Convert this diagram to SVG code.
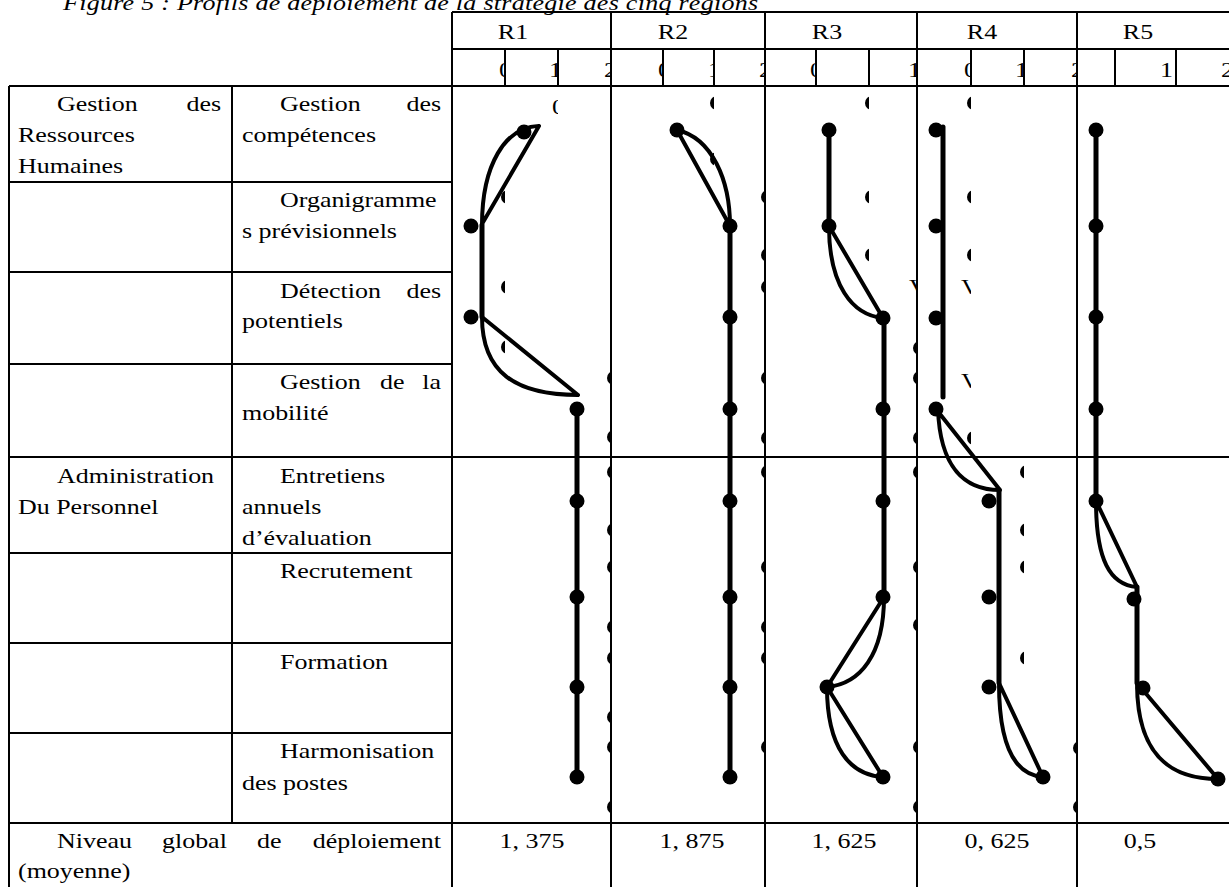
<svg xmlns="http://www.w3.org/2000/svg" width="1229" height="887" viewBox="0 0 1229 887">
<style>
.t{font-family:"Liberation Serif","Times New Roman",serif;font-size:22px;fill:#000}
.i{font-style:italic}
.m{text-anchor:middle}
.e{text-anchor:end}
.g{stroke:#000;stroke-width:2;fill:none}
.v{stroke:#000;stroke-width:5;fill:none;stroke-linecap:round}
.l{stroke:#000;stroke-width:4;fill:none;stroke-linecap:round;stroke-linejoin:round}
.d{fill:#000}
</style>
<defs>
<clipPath id="k505" clipPathUnits="userSpaceOnUse"><rect x="465" y="0" width="40" height="887"/></clipPath>
<clipPath id="k558" clipPathUnits="userSpaceOnUse"><rect x="518" y="0" width="40" height="887"/></clipPath>
<clipPath id="k611" clipPathUnits="userSpaceOnUse"><rect x="571" y="0" width="40" height="887"/></clipPath>
<clipPath id="k663" clipPathUnits="userSpaceOnUse"><rect x="623" y="0" width="40" height="887"/></clipPath>
<clipPath id="k714" clipPathUnits="userSpaceOnUse"><rect x="674" y="0" width="40" height="887"/></clipPath>
<clipPath id="k765" clipPathUnits="userSpaceOnUse"><rect x="725" y="0" width="40" height="887"/></clipPath>
<clipPath id="k816" clipPathUnits="userSpaceOnUse"><rect x="776" y="0" width="40" height="887"/></clipPath>
<clipPath id="k869" clipPathUnits="userSpaceOnUse"><rect x="829" y="0" width="40" height="887"/></clipPath>
<clipPath id="k917" clipPathUnits="userSpaceOnUse"><rect x="877" y="0" width="40" height="887"/></clipPath>
<clipPath id="k971" clipPathUnits="userSpaceOnUse"><rect x="931" y="0" width="40" height="887"/></clipPath>
<clipPath id="k1024" clipPathUnits="userSpaceOnUse"><rect x="984" y="0" width="40" height="887"/></clipPath>
<clipPath id="k1077" clipPathUnits="userSpaceOnUse"><rect x="1037" y="0" width="40" height="887"/></clipPath>
<clipPath id="k1176" clipPathUnits="userSpaceOnUse"><rect x="1136" y="0" width="40" height="887"/></clipPath>
<clipPath id="k1229" clipPathUnits="userSpaceOnUse"><rect x="1189" y="0" width="40" height="887"/></clipPath>
</defs>
<rect width="1229" height="887" fill="#fff"/>

<g id="title">
<text class="t i" transform="translate(63 10) scale(1.18 1)" textLength="589" lengthAdjust="spacing">Figure 5 : Profils de déploiement de la stratégie des cinq régions</text>
</g>

<g id="grid">
<path class="g" d="M452,12H1229M452,49H1229M9,86H1229M9,182H452M9,272H452M9,364H452M9,457H1229M9,553H452M9,643H452M9,733H452M9,823H1229"/>
<path class="g" d="M9,86V887M232,86V823M452,12V887M611,12V887M765,12V887M917,12V887M1077,12V887"/>
<path class="g" d="M505,49V86M558,49V86M663,49V86M714,49V86M816,49V86M869,49V86M971,49V86M1024,49V86M1115,49V86M1176,49V86"/>
</g>

<g id="header">
<text class="t m" transform="translate(513 39) scale(1.18 1)">R1</text>
<text class="t m" transform="translate(673 39) scale(1.18 1)">R2</text>
<text class="t m" transform="translate(827 39) scale(1.18 1)">R3</text>
<text class="t m" transform="translate(982 39) scale(1.18 1)">R4</text>
<text class="t m" transform="translate(1138 39) scale(1.18 1)">R5</text>
<g clip-path="url(#k505)"><text class="t" transform="translate(499 77) scale(1.18 1)">0</text></g>
<g clip-path="url(#k558)"><text class="t" transform="translate(549 77) scale(1.18 1)">1</text></g>
<g clip-path="url(#k611)"><text class="t" transform="translate(604 77) scale(1.18 1)">2</text></g>
<g clip-path="url(#k663)"><text class="t" transform="translate(658 77) scale(1.18 1)">0</text></g>
<g clip-path="url(#k714)"><text class="t" transform="translate(708 77) scale(1.18 1)">1</text></g>
<g clip-path="url(#k765)"><text class="t" transform="translate(759 77) scale(1.18 1)">2</text></g>
<g clip-path="url(#k816)"><text class="t" transform="translate(810 77) scale(1.18 1)">0</text></g>
<g clip-path="url(#k917)"><text class="t" transform="translate(908 77) scale(1.18 1)">1</text></g>
<g clip-path="url(#k971)"><text class="t" transform="translate(964 77) scale(1.18 1)">0</text></g>
<g clip-path="url(#k1024)"><text class="t" transform="translate(1015 77) scale(1.18 1)">1</text></g>
<g clip-path="url(#k1077)"><text class="t" transform="translate(1071 77) scale(1.18 1)">2</text></g>
<g clip-path="url(#k1176)"><text class="t" transform="translate(1160 77) scale(1.18 1)">1</text></g>
<g clip-path="url(#k1229)"><text class="t" transform="translate(1221 77) scale(1.18 1)">2</text></g>
</g>

<g id="labels">
<text class="t" transform="translate(57 111) scale(1.18 1)">Gestion</text>
<text class="t e" transform="translate(221 111) scale(1.18 1)">des</text>
<text class="t" transform="translate(18 142) scale(1.18 1)">Ressources</text>
<text class="t" transform="translate(18 173) scale(1.18 1)">Humaines</text>
<text class="t" transform="translate(280 111) scale(1.18 1)">Gestion</text>
<text class="t e" transform="translate(441 111) scale(1.18 1)">des</text>
<text class="t" transform="translate(242 142) scale(1.18 1)">compétences</text>
<text class="t" transform="translate(280 207) scale(1.18 1)">Organigramme</text>
<text class="t" transform="translate(242 238) scale(1.18 1)">s prévisionnels</text>
<text class="t" transform="translate(280 298) scale(1.18 1)">Détection</text>
<text class="t e" transform="translate(441 298) scale(1.18 1)">des</text>
<text class="t" transform="translate(242 328) scale(1.18 1)">potentiels</text>
<text class="t" transform="translate(280 389) scale(1.18 1)">Gestion</text>
<text class="t" transform="translate(380 389) scale(1.18 1)">de</text>
<text class="t e" transform="translate(441 389) scale(1.18 1)">la</text>
<text class="t" transform="translate(242 420) scale(1.18 1)">mobilité</text>
<text class="t" transform="translate(57 483) scale(1.18 1)">Administration</text>
<text class="t" transform="translate(18 514) scale(1.18 1)">Du Personnel</text>
<text class="t" transform="translate(280 483) scale(1.18 1)">Entretiens</text>
<text class="t" transform="translate(242 514) scale(1.18 1)">annuels</text>
<text class="t" transform="translate(242 545) scale(1.18 1)">d’évaluation</text>
<text class="t" transform="translate(280 578) scale(1.18 1)">Recrutement</text>
<text class="t" transform="translate(280 669) scale(1.18 1)">Formation</text>
<text class="t" transform="translate(280 758) scale(1.18 1)">Harmonisation</text>
<text class="t" transform="translate(242 790) scale(1.18 1)">des postes</text>
<text class="t" transform="translate(57 848) scale(1.18 1)">Niveau</text>
<text class="t" transform="translate(162 848) scale(1.18 1)">global</text>
<text class="t" transform="translate(257 848) scale(1.18 1)">de</text>
<text class="t e" transform="translate(441 848) scale(1.18 1)">déploiement</text>
<text class="t" transform="translate(18 878) scale(1.18 1)">(moyenne)</text>
<text class="t m" transform="translate(532 848) scale(1.18 1)">1, 375</text>
<text class="t m" transform="translate(692 848) scale(1.18 1)">1, 875</text>
<text class="t m" transform="translate(844 848) scale(1.18 1)">1, 625</text>
<text class="t m" transform="translate(997 848) scale(1.18 1)">0, 625</text>
<text class="t m" transform="translate(1140 848) scale(1.18 1)">0,5</text>
</g>

<g id="fragments">
<g clip-path="url(#k505)" class="d"><circle cx="508" cy="197" r="7"/><circle cx="508" cy="287" r="7"/><circle cx="508" cy="347" r="7"/></g>
<g clip-path="url(#k558)"><text class="t" transform="translate(552 114) scale(1.18 1)">0</text></g>
<g clip-path="url(#k611)" class="d"><circle cx="614" cy="378" r="7"/><circle cx="614" cy="437" r="7"/><circle cx="614" cy="472" r="7"/><circle cx="614" cy="530" r="7"/><circle cx="614" cy="567" r="7"/><circle cx="614" cy="627" r="7"/><circle cx="614" cy="658" r="7"/><circle cx="614" cy="717" r="7"/><circle cx="614" cy="747" r="7"/><circle cx="614" cy="807" r="7"/></g>
<g clip-path="url(#k714)" class="d"><circle cx="717" cy="103" r="7"/><circle cx="717" cy="159" r="7"/></g>
<g clip-path="url(#k765)" class="d"><circle cx="768" cy="197" r="7"/><circle cx="768" cy="255" r="7"/><circle cx="768" cy="287" r="7"/><circle cx="768" cy="378" r="7"/><circle cx="768" cy="438" r="7"/><circle cx="768" cy="472" r="7"/><circle cx="768" cy="567" r="7"/><circle cx="768" cy="627" r="7"/><circle cx="768" cy="658" r="7"/><circle cx="768" cy="747" r="7"/></g>
<g clip-path="url(#k869)" class="d"><circle cx="872" cy="103" r="7"/><circle cx="872" cy="197" r="7"/><circle cx="872" cy="255" r="7"/></g>
<g clip-path="url(#k917)" class="d"><circle cx="920" cy="348" r="7"/><circle cx="920" cy="378" r="7"/><circle cx="920" cy="438" r="7"/><circle cx="920" cy="472" r="7"/><circle cx="920" cy="567" r="7"/><circle cx="920" cy="625" r="7"/><circle cx="920" cy="747" r="7"/><circle cx="920" cy="807" r="7"/></g>
<g clip-path="url(#k917)"><text class="t" transform="translate(909 294) scale(1.18 1)">V</text></g>
<g clip-path="url(#k971)" class="d"><circle cx="974" cy="103" r="7"/><circle cx="974" cy="197" r="7"/><circle cx="974" cy="255" r="7"/><circle cx="974" cy="438" r="7"/></g>
<g clip-path="url(#k971)"><text class="t" transform="translate(961 294) scale(1.18 1)">V</text><text class="t" transform="translate(961 388) scale(1.18 1)">V</text></g>
<g clip-path="url(#k1024)" class="d"><circle cx="1027" cy="472" r="7"/><circle cx="1027" cy="530" r="7"/><circle cx="1027" cy="567" r="7"/><circle cx="1027" cy="658" r="7"/></g>
<g clip-path="url(#k1077)" class="d"><circle cx="1080" cy="748" r="7"/><circle cx="1080" cy="807" r="7"/></g>
</g>

<g id="connectors">
<path class="l" d="M539,126L482,224M539,126C505,127 482,165 482,225"/>
<path class="v" d="M482,225V317"/>
<path class="l" d="M482,317L578,395M482,317C482,372 515,395 578,395"/>
<path class="v" d="M577,409V777"/>
<path class="l" d="M677,130L730,226M677,130C712,138 730,180 730,226"/>
<path class="v" d="M730,226V777"/>
<path class="v" d="M829,130V226"/>
<path class="l" d="M829,226L883,318M829,226C829,285 852,315 883,318"/>
<path class="v" d="M884,318V597"/>
<path class="l" d="M884,597L827,687M884,597C884,655 860,684 827,687"/>
<path class="l" d="M827,687L883,777M827,687C827,748 850,775 883,777"/>
<path class="v" d="M943,127V397"/>
<path class="l" d="M936,409L1000,490M938,409C940,468 965,490 1000,490"/>
<path class="v" d="M999,490V683"/>
<path class="l" d="M999,683L1043,777M999,683C999,745 1015,775 1043,777"/>
<path class="v" d="M1096,130V501"/>
<path class="l" d="M1096,501L1137,587M1096,501C1096,560 1110,585 1137,587"/>
<path class="v" d="M1137,587V683"/>
<path class="l" d="M1137,683L1218,779M1137,683C1137,755 1170,779 1218,779"/>
</g>

<g id="r1" class="d"><circle cx="524" cy="132" r="7.5"/><circle cx="471" cy="226" r="7.5"/><circle cx="471" cy="317" r="7.5"/><circle cx="577" cy="409" r="7.5"/><circle cx="577" cy="501" r="7.5"/><circle cx="577" cy="597" r="7.5"/><circle cx="577" cy="687" r="7.5"/><circle cx="577" cy="777" r="7.5"/></g>
<g id="r2" class="d"><circle cx="677" cy="130" r="7.5"/><circle cx="730" cy="226" r="7.5"/><circle cx="730" cy="317" r="7.5"/><circle cx="730" cy="409" r="7.5"/><circle cx="730" cy="501" r="7.5"/><circle cx="730" cy="597" r="7.5"/><circle cx="730" cy="687" r="7.5"/><circle cx="730" cy="777" r="7.5"/></g>
<g id="r3" class="d"><circle cx="829" cy="130" r="7.5"/><circle cx="829" cy="226" r="7.5"/><circle cx="883" cy="318" r="7.5"/><circle cx="883" cy="409" r="7.5"/><circle cx="883" cy="501" r="7.5"/><circle cx="883" cy="597" r="7.5"/><circle cx="827" cy="687" r="7.5"/><circle cx="883" cy="777" r="7.5"/></g>
<g id="r4" class="d"><circle cx="936" cy="130" r="7.5"/><circle cx="936" cy="226" r="7.5"/><circle cx="936" cy="318" r="7.5"/><circle cx="936" cy="409" r="7.5"/><circle cx="989" cy="501" r="7.5"/><circle cx="989" cy="597" r="7.5"/><circle cx="989" cy="687" r="7.5"/><circle cx="1043" cy="777" r="7.5"/></g>
<g id="r5" class="d"><circle cx="1096" cy="130" r="7.5"/><circle cx="1096" cy="226" r="7.5"/><circle cx="1096" cy="317" r="7.5"/><circle cx="1096" cy="409" r="7.5"/><circle cx="1096" cy="501" r="7.5"/><circle cx="1134" cy="599" r="7.5"/><circle cx="1143" cy="688" r="7.5"/><circle cx="1218" cy="779" r="7.5"/></g>
</svg>
